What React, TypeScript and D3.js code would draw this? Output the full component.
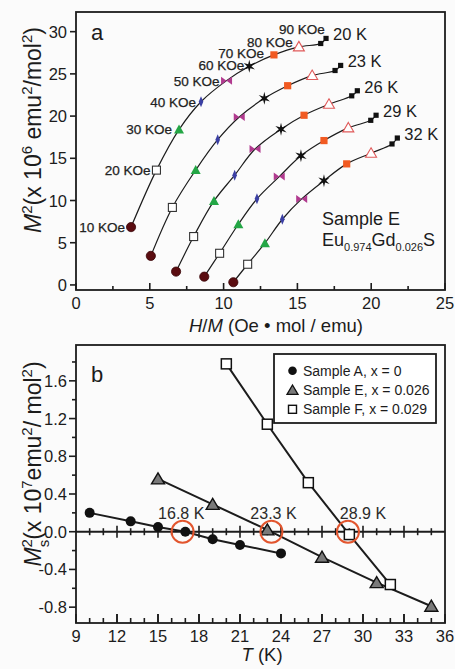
import React from 'react';
import * as d3 from 'd3';

// Panel (a): M^2 vs H/M isotherms, Sample E
const isoTemps = ['20 K', '23 K', '26 K', '29 K', '32 K'];
const hm20 = [3.73, 5.45, 6.98, 8.47, 10.2, 11.74, 13.41, 15.1, 16.58, 16.94];
const msq20 = [6.85, 13.6, 18.4, 21.7, 24.2, 25.9, 27.25, 28.2, 28.6, 29.2];
const hm23 = [5.07, 6.53, 8.11, 9.6, 11.06, 12.76, 14.34, 16.0, 17.55, 17.93];
const msq23 = [3.44, 9.18, 13.6, 17.2, 19.9, 22.1, 23.6, 24.8, 25.4, 26.0];
const hm26 = [6.78, 7.97, 9.35, 10.75, 12.13, 13.89, 15.45, 17.14, 18.68, 19.06];
const msq26 = [1.58, 5.73, 9.95, 13.0, 16.1, 18.45, 20.1, 21.4, 22.4, 23.0];
const hm29 = [8.69, 9.73, 11.0, 12.26, 13.77, 15.24, 16.8, 18.45, 19.97, 20.33];
const msq29 = [0.98, 3.75, 7.19, 10.2, 12.83, 15.3, 17.1, 18.6, 19.5, 20.1];
const hm32 = [10.66, 11.63, 12.8, 13.98, 15.29, 16.8, 18.34, 19.99, 21.41, 21.77];
const msq32 = [0.32, 2.45, 4.94, 7.78, 10.19, 12.35, 14.34, 15.6, 16.7, 17.4];
const fieldLabels = ['10 KOe', '20 KOe', '30 KOe', '40 KOe', '50 KOe', '60 KOe', '70 KOe', '80 KOe', '90 KOe'];
const markerKinds = ['dot', 'openSquare', 'triangle', 'diamond', 'bowtie', 'star', 'fillSquare', 'openTriangle', 'smallSquare', 'smallSquare'];
const xTicksA = [0, 5, 10, 15, 20, 25];
const yTicksA = [0, 5, 10, 15, 20, 25, 30];

// Panel (b): spontaneous magnetisation squared vs T
const tempA = [10, 13, 15, 17, 19, 21, 24];
const msA = [0.2, 0.11, 0.05, 0.0, -0.08, -0.14, -0.23];
const tempE = [15, 19, 23, 27, 31, 35];
const msE = [0.56, 0.29, 0.02, -0.27, -0.54, -0.79];
const tempF = [20, 23, 26, 29, 32];
const msF = [1.78, 1.14, 0.52, -0.03, -0.56];
const curieT = [16.8, 23.3, 28.9];
const curieLabels = ['16.8 K', '23.3 K', '28.9 K'];
const legendLabels = ['Sample A, x = 0', 'Sample E, x = 0.026', 'Sample F, x = 0.029'];
const xTicksB = [9, 12, 15, 18, 21, 24, 27, 30, 33, 36];
const yTicksB = [-0.8, -0.4, 0.0, 0.4, 0.8, 1.2, 1.6];

const FONT = "'Liberation Sans', Arial, Helvetica, sans-serif";
const INK = '#1c1c1c';

const xA = d3.scaleLinear().domain([0, 25]).range([76, 445]);
const yA = d3.scaleLinear().domain([-0.6, 32.33]).range([290, 12]);
const xB = d3.scaleLinear().domain([9, 36]).range([76, 445]);
const yB = d3.scaleLinear().domain([-0.968, 1.98]).range([623, 345]);

const isoSeries = [
  { hm: hm20, msq: msq20 },
  { hm: hm23, msq: msq23 },
  { hm: hm26, msq: msq26 },
  { hm: hm29, msq: msq29 },
  { hm: hm32, msq: msq32 },
];

// label offsets (px) of the field annotations on the 20 K isotherm
const fieldLabelOffsets: [number, number][] = [
  [-6, 0], [-6, 0], [-7, -1], [-5, 0], [-7, 0], [-5, -1], [-10, -2], [-6, -5], [4, -14],
];

function starPath(ro: number, ri: number, n: number) {
  const pts: string[] = [];
  for (let i = 0; i < n * 2; i++) {
    const r = i % 2 === 0 ? ro : ri;
    const a = (Math.PI * i) / n - Math.PI / 2;
    pts.push(`${(r * Math.cos(a)).toFixed(2)},${(r * Math.sin(a)).toFixed(2)}`);
  }
  return 'M' + pts.join('L') + 'Z';
}

function Marker({ kind, x, y }: { kind: string; x: number; y: number }) {
  const t = `translate(${x},${y})`;
  switch (kind) {
    case 'dot':
      return <circle cx={x} cy={y} r={4.6} fill="#5a0c10" stroke="#380406" strokeWidth={0.8} />;
    case 'openSquare':
      return <rect x={x - 4} y={y - 4} width={8} height={8} fill="#fff" stroke="#333" strokeWidth={1.1} />;
    case 'triangle':
      return <path transform={t} d="M0,-5 L5,4 L-5,4 Z" fill="#23a645" />;
    case 'diamond':
      return <path transform={t} d="M0,-5.5 L2.3,0 L0,5.5 L-2.3,0 Z" fill="#3b3fa3" />;
    case 'bowtie':
      return <path transform={t} d="M-5.5,-4 L0,0 L-5.5,4 Z M5.5,-4 L0,0 L5.5,4 Z" fill="#b13a8f" />;
    case 'star':
      return <path transform={t} d={starPath(6.5, 2.2, 6)} fill="#111" />;
    case 'fillSquare':
      return <rect x={x - 3.6} y={y - 3.6} width={7.2} height={7.2} fill="#f15a22" />;
    case 'openTriangle':
      return <path transform={t} d="M0,-5.5 L5.5,4 L-5.5,4 Z" fill="#fff" stroke="#e05a5a" strokeWidth={1.1} />;
    default:
      return <rect x={x - 2.6} y={y - 2.6} width={5.2} height={5.2} fill="#111" />;
  }
}

function PanelA() {
  const curve = d3
    .line<[number, number]>()
    .x((d) => xA(d[0]))
    .y((d) => yA(d[1]))
    .curve(d3.curveCatmullRom.alpha(0.5));
  const minorX = d3.range(2.5, 25, 5);
  const first = isoSeries[0];
  return (
    <g>
      {isoSeries.map((s, i) => (
        <path key={'c' + i} d={curve(s.hm.map((h, j) => [h, s.msq[j]]))!} fill="none" stroke={INK} strokeWidth={1.2} />
      ))}
      {isoSeries.map((s, i) =>
        s.hm.map((h, j) => <Marker key={`m${i}-${j}`} kind={markerKinds[j]} x={xA(h)} y={yA(s.msq[j])} />)
      )}
      {fieldLabels.map((lab, j) => (
        <text
          key={'f' + j}
          x={xA(first.hm[j]) + fieldLabelOffsets[j][0]}
          y={yA(first.msq[j]) + fieldLabelOffsets[j][1] + 5}
          textAnchor="end"
          fontSize={13.5}
          fill="#222"
          stroke="#222"
          strokeWidth={0.25}
        >
          {lab}
        </text>
      ))}
      {isoSeries.map((s, i) => {
        const n = s.hm.length - 1;
        return (
          <text key={'t' + i} x={xA(s.hm[n]) + 7} y={yA(s.msq[n]) + 2} fontSize={16.5} fill={INK}>
            {isoTemps[i]}
          </text>
        );
      })}
      {/* frame */}
      <rect x={76} y={12} width={369} height={278} fill="none" stroke={INK} strokeWidth={1.8} />
      {xTicksA.map((v) => (
        <g key={'xt' + v}>
          <line x1={xA(v)} x2={xA(v)} y1={290} y2={283} stroke={INK} strokeWidth={1.6} />
          <text x={xA(v)} y={308.5} textAnchor="middle" fontSize={16.5} fill={INK}>
            {v}
          </text>
        </g>
      ))}
      {minorX.map((v) => (
        <line key={'xm' + v} x1={xA(v)} x2={xA(v)} y1={290} y2={286} stroke={INK} strokeWidth={1.6} />
      ))}
      {yTicksA.map((v) => (
        <g key={'yt' + v}>
          <line x1={70} x2={76} y1={yA(v)} y2={yA(v)} stroke={INK} strokeWidth={1.6} />
          <text x={67} y={yA(v) + 6} textAnchor="end" fontSize={16.5} fill={INK}>
            {v}
          </text>
        </g>
      ))}
      <text x={91} y={40} fontSize={22} fill={INK}>a</text>
      <text x={322} y={225} fontSize={18} fill={INK}>Sample E</text>
      <text x={322} y={246} fontSize={18} fill={INK}>
        Eu
        <tspan fontSize={11} dy={5}>0.974</tspan>
        <tspan dy={-5}>Gd</tspan>
        <tspan fontSize={11} dy={5}>0.026</tspan>
        <tspan dy={-5}>S</tspan>
      </text>
      <text x={276} y={332} textAnchor="middle" fontSize={18.5} fill={INK}>
        <tspan fontStyle="italic">H</tspan>/<tspan fontStyle="italic">M</tspan> (Oe • mol / emu)
      </text>
      <text transform="translate(41,130) rotate(-90)" textAnchor="middle" fontSize={23} fill={INK}>
        <tspan fontStyle="italic">M</tspan>
        <tspan fontSize={15} dy={-9}>2</tspan>
        <tspan dy={9}>(x 10</tspan>
        <tspan fontSize={15} dy={-9}>6</tspan>
        <tspan dy={9}> emu</tspan>
        <tspan fontSize={15} dy={-9}>2</tspan>
        <tspan dy={9}>/mol</tspan>
        <tspan fontSize={15} dy={-9}>2</tspan>
        <tspan dy={9}>)</tspan>
      </text>
    </g>
  );
}

function PanelB() {
  const seg = d3
    .line<[number, number]>()
    .x((d) => xB(d[0]))
    .y((d) => yB(d[1]));
  const y0 = yB(0);
  const unitTicks = d3.range(10, 36, 1);
  const minorY = d3.range(-0.8, 1.81, 0.2).map((v) => Math.round(v * 10) / 10);
  const curieDx = [-0.1, 0.15, 1.1];
  return (
    <g>
      {/* zero line with ticks */}
      <line x1={76} x2={445} y1={y0} y2={y0} stroke={INK} strokeWidth={2} />
      {unitTicks.map((v) => {
        const major = (v - 9) % 3 === 0;
        const h = major ? 6 : 3.5;
        return (
          <g key={'zt' + v}>
            <line x1={xB(v)} x2={xB(v)} y1={y0 - h} y2={y0 + h} stroke={INK} strokeWidth={1.6} />
            <line x1={xB(v)} x2={xB(v)} y1={623} y2={623 - (major ? 9 : 5)} stroke={INK} strokeWidth={1.6} />
          </g>
        );
      })}
      <path d={seg(tempA.map((t, i) => [t, msA[i]]))!} fill="none" stroke={INK} strokeWidth={2} />
      <path d={seg(tempE.map((t, i) => [t, msE[i]]))!} fill="none" stroke={INK} strokeWidth={2} />
      <path d={seg(tempF.map((t, i) => [t, msF[i]]))!} fill="none" stroke={INK} strokeWidth={2} />
      {tempA.map((t, i) => (
        <circle key={'a' + i} cx={xB(t)} cy={yB(msA[i])} r={5} fill="#111" />
      ))}
      {tempE.map((t, i) => (
        <path
          key={'e' + i}
          transform={`translate(${xB(t)},${yB(msE[i])})`}
          d="M0,-6 L6.5,5 L-6.5,5 Z"
          fill="#7a7a7a"
          stroke="#111"
          strokeWidth={1.4}
        />
      ))}
      {tempF.map((t, i) => (
        <rect key={'f' + i} x={xB(t) - 5} y={yB(msF[i]) - 5} width={10} height={10} fill="#fff" stroke="#111" strokeWidth={1.5} />
      ))}
      {curieT.map((t, i) => (
        <g key={'tc' + i}>
          <circle cx={xB(t)} cy={y0} r={11} fill="none" stroke="#e2552e" strokeWidth={2} />
          <text x={xB(t + curieDx[i])} y={519} textAnchor="middle" fontSize={16} fill="#2a2a2a">
            {curieLabels[i]}
          </text>
        </g>
      ))}
      {/* frame */}
      <rect x={76} y={345} width={369} height={278} fill="none" stroke={INK} strokeWidth={1.8} />
      {xTicksB.map((v) => (
        <g key={'xb' + v}>
          <line x1={xB(v)} x2={xB(v)} y1={623} y2={614} stroke={INK} strokeWidth={1.6} />
          <text x={xB(v)} y={641.5} textAnchor="middle" fontSize={16.5} fill={INK}>
            {v}
          </text>
        </g>
      ))}
      {minorY.map((v) => (
        <line key={'ym' + v} x1={Math.abs(v * 10) % 4 === 0 ? 69 : 72} x2={76} y1={yB(v)} y2={yB(v)} stroke={INK} strokeWidth={1.6} />
      ))}
      {yTicksB.map((v) => (
        <text key={'yb' + v} x={67} y={yB(v) + 6} textAnchor="end" fontSize={16.5} fill={INK}>
          {v.toFixed(1)}
        </text>
      ))}
      <text x={91} y={381.5} fontSize={22} fill={INK}>b</text>
      {/* legend */}
      <rect x={274} y={354} width={162} height={69} fill="#fff" stroke={INK} strokeWidth={1.8} />
      <circle cx={292.5} cy={370.7} r={4.3} fill="#111" />
      <path transform="translate(292.5,390)" d="M0,-5 L5.5,4.3 L-5.5,4.3 Z" fill="#7a7a7a" stroke="#111" strokeWidth={1.3} />
      <rect x={288.5} y={405.3} width={8} height={8} fill="#fff" stroke="#111" strokeWidth={1.4} />
      {legendLabels.map((l, i) => (
        <text key={'l' + i} x={303} y={375.7 + i * 19.3} fontSize={14} fill={INK}>
          {l}
        </text>
      ))}
      <text x={262} y={661} textAnchor="middle" fontSize={18.5} fill={INK}>
        <tspan fontStyle="italic">T</tspan> (K)
      </text>
      <text transform="translate(41,464) rotate(-90)" textAnchor="middle" fontSize={23} fill={INK}>
        <tspan fontStyle="italic">M</tspan>
        <tspan fontSize={15} dy={-9}>2</tspan>
        <tspan fontSize={15} dx={-8.3} dy={17}>s</tspan>
        <tspan dy={-8}>(x 10</tspan>
        <tspan fontSize={15} dy={-9}>7</tspan>
        <tspan dy={9}>emu</tspan>
        <tspan fontSize={15} dy={-9}>2</tspan>
        <tspan dy={9}>/ mol</tspan>
        <tspan fontSize={15} dy={-9}>2</tspan>
        <tspan dy={9}>)</tspan>
      </text>
    </g>
  );
}

export default function App() {
  return (
    <svg
      width={455}
      height={669}
      viewBox="0 0 455 669"
      style={{ position: 'absolute', left: 0, top: 0, background: '#fbfbfb' }}
      fontFamily={FONT}
    >
      <PanelA />
      <PanelB />
    </svg>
  );
}
